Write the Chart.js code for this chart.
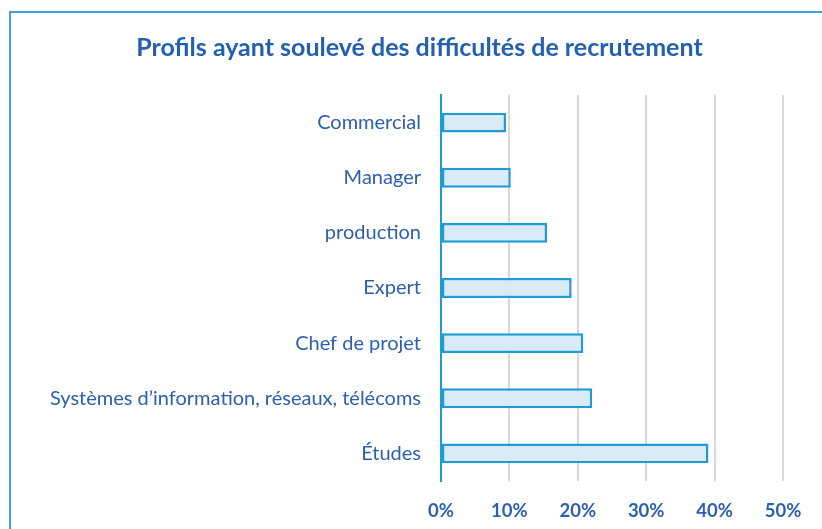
<!DOCTYPE html>
<html>
<head>
<meta charset="utf-8">
<script src="https://cdn.jsdelivr.net/npm/chart.js@4/dist/chart.umd.min.js"></script>
<style>
html,body{margin:0;padding:0;background:#fff;overflow:hidden;}
#frame{position:absolute;left:9px;top:11px;width:900px;height:600px;border-left:2px solid #3ea2dc;border-top:2px solid #3ea2dc;box-sizing:border-box;}
#wrap{position:absolute;left:0;top:0;width:822px;height:529px;}
</style>
</head>
<body>
<div id="frame"></div>
<div id="wrap"><canvas id="c" width="822" height="529"></canvas></div>
<script>
const categories = ["Commercial","Manager","production","Expert","Chef de projet","Systèmes d’information, réseaux, télécoms","Études"];
const values = [9.5, 10.2, 15.5, 19.1, 20.8, 22.1, 39.1];
const xTicks = [0, 10, 20, 30, 40, 50];
const titleText = "Profils ayant soulevé des difficultés de recrutement";

const FONT = "Lato, 'Open Sans', sans-serif";
const TXT = "#2c5fae";

// shift the title block so it is centred over the frame like the original
const titleShift = {
  id: 'titleShift',
  afterLayout(chart) {
    if (chart.titleBlock) { chart.titleBlock.left += 56; }
  }
};

new Chart(document.getElementById('c'), {
  type: 'bar',
  data: {
    labels: categories,
    datasets: [{
      data: values,
      backgroundColor: '#dbeaf7',
      borderColor: '#1f9bd7',
      borderWidth: 2.5,
      borderSkipped: false,
      categoryPercentage: 1,
      barPercentage: 0.36
    }]
  },
  plugins: [titleShift],
  options: {
    indexAxis: 'y',
    responsive: false,
    animation: false,
    layout: { padding: { left: 0, right: 39, top: 0, bottom: 0 } },
    plugins: {
      legend: { display: false },
      tooltip: { enabled: false },
      title: {
        display: true,
        text: titleText,
        color: '#2460b0',
        font: { family: FONT, size: 25, weight: 'bold' },
        padding: { top: 33, bottom: 32 }
      }
    },
    scales: {
      x: {
        min: 0, max: 50,
        afterBuildTicks: (s) => { s.ticks = xTicks.map(v => ({ value: v })); },
        ticks: {
          callback: (v) => v + '%',
          color: TXT,
          font: { family: FONT, size: 18.5, weight: 'bold' },
          padding: 19
        },
        grid: { color: '#d9d9d9', lineWidth: 2, drawTicks: false },
        border: { display: false },
        afterFit: (s) => { s.height = 48; }
      },
      y: {
        ticks: {
          color: TXT,
          font: { family: FONT, size: 20 },
          padding: 20
        },
        grid: { display: false, drawTicks: false },
        border: { display: true, color: '#1f9bd7', width: 2 },
        afterFit: (s) => { s.width = 441; }
      }
    }
  }
});
</script>
</body>
</html>
